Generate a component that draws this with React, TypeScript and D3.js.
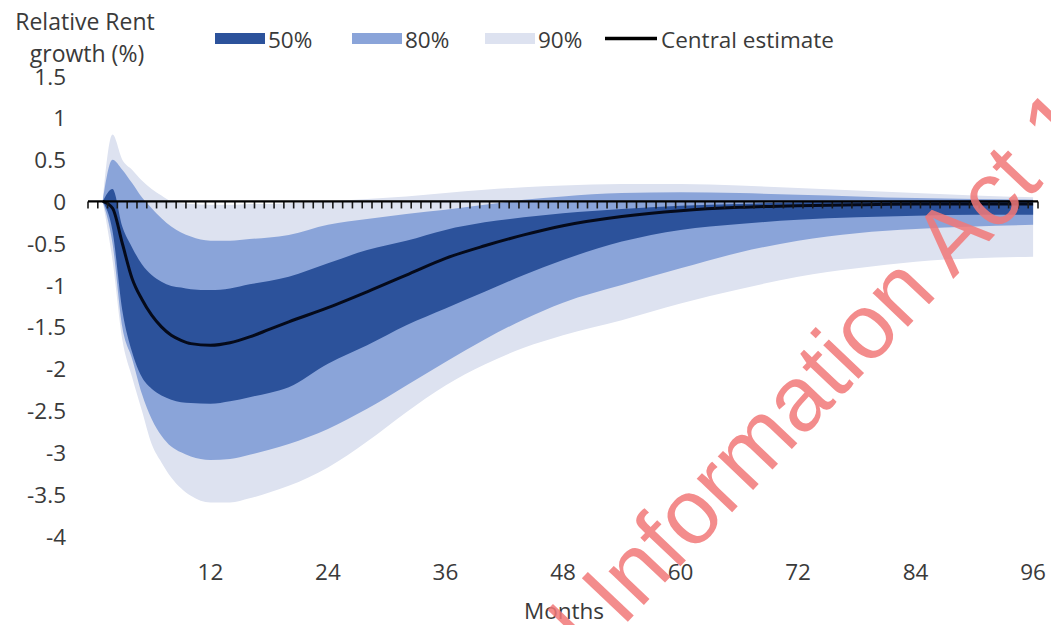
import React from "react";
import * as d3 from "d3";

const months = [1, 2, 3, 4, 5, 6, 7, 8, 9, 10, 12, 14, 16, 18, 20, 24, 28, 32, 36, 40, 44, 48, 54, 60, 66, 72, 78, 84, 90, 96];
const central = [0, -0.08, -0.5, -0.92, -1.17, -1.36, -1.5, -1.6, -1.66, -1.7, -1.72, -1.69, -1.62, -1.53, -1.44, -1.27, -1.08, -0.88, -0.68, -0.53, -0.4, -0.29, -0.18, -0.11, -0.07, -0.05, -0.04, -0.03, -0.03, -0.03];
const upper50 = [0, 0.15, -0.3, -0.55, -0.75, -0.88, -0.96, -1.01, -1.03, -1.05, -1.06, -1.04, -0.99, -0.95, -0.9, -0.74, -0.58, -0.47, -0.34, -0.25, -0.19, -0.14, -0.09, -0.05, -0.03, -0.01, 0, 0.01, 0.01, 0.01];
const lower50 = [0, -0.35, -1.3, -1.8, -2.1, -2.24, -2.32, -2.37, -2.4, -2.41, -2.42, -2.39, -2.34, -2.29, -2.22, -1.94, -1.72, -1.48, -1.28, -1.08, -0.88, -0.7, -0.48, -0.34, -0.27, -0.22, -0.19, -0.17, -0.16, -0.16];
const upper80 = [0, 0.5, 0.38, 0.22, 0.05, -0.08, -0.2, -0.3, -0.37, -0.42, -0.47, -0.47, -0.45, -0.43, -0.4, -0.28, -0.21, -0.15, -0.1, -0.04, 0.02, 0.06, 0.1, 0.11, 0.1, 0.08, 0.06, 0.04, 0.03, 0.02];
const lower80 = [0, -0.5, -1.5, -1.88, -2.3, -2.6, -2.8, -2.93, -3.0, -3.05, -3.09, -3.08, -3.03, -2.97, -2.9, -2.72, -2.48, -2.2, -1.92, -1.65, -1.41, -1.21, -1.0, -0.8, -0.61, -0.47, -0.38, -0.33, -0.3, -0.28];
const upper90 = [0, 0.8, 0.5, 0.38, 0.25, 0.15, 0.07, 0.0, -0.02, -0.03, -0.04, -0.04, -0.03, -0.03, -0.02, 0.0, 0.03, 0.06, 0.1, 0.14, 0.17, 0.19, 0.21, 0.21, 0.19, 0.16, 0.13, 0.1, 0.07, 0.05];
const lower90 = [0, -0.7, -1.65, -2.1, -2.5, -2.9, -3.12, -3.3, -3.43, -3.52, -3.6, -3.6, -3.55, -3.48, -3.4, -3.18, -2.87, -2.52, -2.2, -1.95, -1.75, -1.6, -1.42, -1.22, -1.05, -0.9, -0.8, -0.72, -0.68, -0.66];

const xTickLabels = [12, 24, 36, 48, 60, 72, 84, 96];
const yTickLabels = [1.5, 1, 0.5, 0, -0.5, -1, -1.5, -2, -2.5, -3, -3.5, -4];
const nCategories = 97;

const legendItems = [
  { label: "50%", kind: "band", color: "#2c529b" },
  { label: "80%", kind: "band", color: "#8aa4d9" },
  { label: "90%", kind: "band", color: "#dde2f0" },
  { label: "Central estimate", kind: "line", color: "#000000" },
];

const FONT = "'Open Sans', 'Noto Sans', sans-serif";
const TEXT = "#3a3a3a";

export default function App() {
  const W = 1051;
  const H = 625;
  const x = d3.scaleLinear().domain([0, nCategories]).range([88, 1038]);
  const y = d3.scaleLinear().domain([-4, 1.5]).range([536, 76]);
  const cx = (m: number) => x(m + 0.5);

  const band = (lo: number[], hi: number[]) =>
    d3
      .area<number>()
      .x((_, i) => cx(months[i]))
      .y0((_, i) => y(lo[i]))
      .y1((_, i) => y(hi[i]))
      .curve(d3.curveMonotoneX)(months as any) as string;

  const line = d3
    .line<number>()
    .x((_, i) => cx(months[i]))
    .y((_, i) => y(central[i]))
    .curve(d3.curveMonotoneX)(months as any) as string;

  const y0 = y(0);
  const ticks = d3.range(0, nCategories + 1);
  const legendX = [215, 352, 485, 605];
  const legendW = [50, 50, 50, 52];

  return (
    <svg width={W} height={H} style={{ position: "absolute", left: 0, top: 0, background: "#fff" }} fontFamily={FONT}>
      <rect x={0} y={0} width={W} height={H} fill="#ffffff" />
      <path d={band(lower90, upper90)} fill="#dde2f0" />
      <path d={band(lower80, upper80)} fill="#8aa4d9" />
      <path d={band(lower50, upper50)} fill="#2c529b" />
      <path d={line} fill="none" stroke="#050a1a" strokeWidth={3} />

      {ticks.map((t) => (
        <line key={t} x1={x(t)} x2={x(t)} y1={y0} y2={y0 + 7} stroke="#1a1a1a" strokeWidth={1.6} />
      ))}
      <line x1={x(0)} x2={x(nCategories)} y1={y0} y2={y0} stroke="#000" strokeWidth={2.2} />

      {yTickLabels.map((v) => (
        <text key={v} x={66} y={y(v)} textAnchor="end" dominantBaseline="central" fontSize={22.5} fill={TEXT}>
          {String(v)}
        </text>
      ))}
      {xTickLabels.map((m) => (
        <text key={m} x={cx(m)} y={571} textAnchor="middle" dominantBaseline="central" fontSize={22.5} fill={TEXT}>
          {m}
        </text>
      ))}
      <text x={564} y={610} textAnchor="middle" dominantBaseline="central" fontSize={22.5} fill={TEXT}>
        Months
      </text>
      <text x={85} y={21} textAnchor="middle" dominantBaseline="central" fontSize={23} fill={TEXT}>
        Relative Rent
      </text>
      <text x={87} y={53} textAnchor="middle" dominantBaseline="central" fontSize={23} fill={TEXT}>
        growth (%)
      </text>

      {legendItems.map((it, i) =>
        it.kind === "band" ? (
          <g key={it.label}>
            <rect x={legendX[i]} y={33} width={legendW[i]} height={11} fill={it.color} />
            <text x={legendX[i] + legendW[i] + 3} y={39} dominantBaseline="central" fontSize={22.5} fill={TEXT}>
              {it.label}
            </text>
          </g>
        ) : (
          <g key={it.label}>
            <line x1={legendX[i]} x2={legendX[i] + legendW[i]} y1={38.5} y2={38.5} stroke={it.color} strokeWidth={3.5} />
            <text x={legendX[i] + legendW[i] + 4} y={39} dominantBaseline="central" fontSize={22.5} fill={TEXT}>
              {it.label}
            </text>
          </g>
        )
      )}

      <g transform="translate(622,628) rotate(-46.5)" fontFamily="'Liberation Sans', Arial, sans-serif" fontSize={92} fill="rgb(242,120,120)" opacity={0.85}>
        <text x={-24} y={0} textAnchor="end">Released under the Official</text>
        <text x={0} y={0}>Information Act 1982</text>
      </g>
    </svg>
  );
}
